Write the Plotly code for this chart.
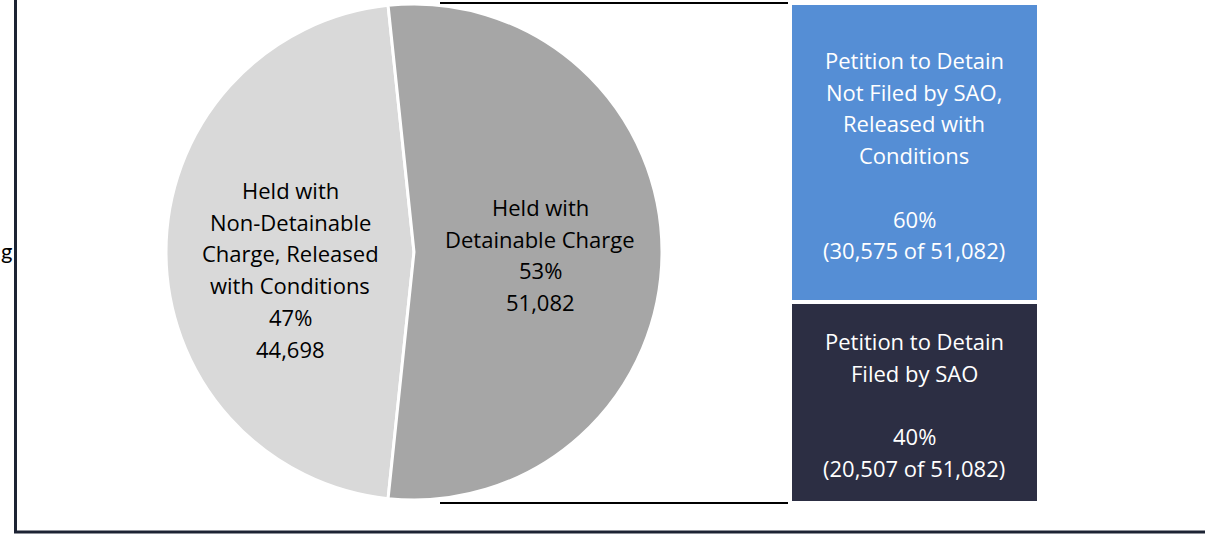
import plotly.graph_objects as go

# ---- data ----
pie_labels = ["Held with<br>Non-Detainable<br>Charge, Released<br>with Conditions",
              "Held with<br>Detainable Charge"]
pie_values = [44698, 51082]
pie_colors = ["#D9D9D9", "#A6A6A6"]

bar_labels = ["Petition to Detain<br>Filed by SAO",
              "Petition to Detain<br>Not Filed by SAO,<br>Released with<br>Conditions"]
bar_values = [20507, 30575]
bar_colors = ["#2C2E43", "#558ED5"]

W, H = 1205, 534
FONT = "Open Sans"
FS = 22
LINE = 31.7

def py(px):
    """top-pixel to paper y"""
    return 1 - px / H

fig = go.Figure()

pie_total = sum(pie_values)
fig.add_trace(go.Pie(
    labels=[l.replace("<br>", " ") for l in pie_labels],
    values=pie_values,
    sort=False,
    direction="clockwise",
    rotation=-174,
    marker=dict(colors=pie_colors, line=dict(color="white", width=3)),
    textinfo="none",
    hoverinfo="label+value+percent",
    domain=dict(x=[166 / W, 662 / W], y=[34 / H, 530 / H]),
    showlegend=False,
))

bar_total = sum(bar_values)
for lab, val, col in zip(bar_labels, bar_values, bar_colors):
    fig.add_trace(go.Bar(
        x=["Detained"], y=[val], name=lab.replace("<br>", " "),
        marker=dict(color=col, line=dict(color="white", width=4)),
        width=1, xaxis="x2", yaxis="y2", showlegend=False,
        hoverinfo="name+y",
    ))

annotations = []

def add_lines(lines, cx, top_center, color):
    for i, t in enumerate(lines):
        if t == "":
            continue
        annotations.append(dict(
            text=t, xref="paper", yref="paper", x=cx / W, y=py(top_center + i * LINE),
            xanchor="center", yanchor="middle", showarrow=False,
            font=dict(family=FONT, size=FS, color=color)))

# pie labels
pie_centers = [(290, 190), (540, 207)]
for lab, val, (cx, ty) in zip(pie_labels, pie_values, pie_centers):
    lines = lab.split("<br>") + [f"{round(100 * val / pie_total)}%", f"{val:,}"]
    add_lines(lines, cx, ty, "#000000")

# bar labels
bar_centers = [(914, 341), (914, 60)]
for lab, val, (cx, ty) in zip(bar_labels, bar_values, bar_centers):
    lines = lab.split("<br>") + ["", f"{round(100 * val / bar_total)}%",
                                 f"({val:,} of {bar_total:,})"]
    add_lines(lines, cx, ty, "#FFFFFF")

# cut-off text at far left
annotations.append(dict(text="g", xref="paper", yref="paper", x=-1 / W, y=py(250),
                        xanchor="left", yanchor="middle", showarrow=False,
                        font=dict(family="Lato", size=FS, color="#000000")))

BAR_TOP, BAR_BOT = 3, 503
shapes = [
    # connector lines from pie to the stacked bar
    dict(type="line", xref="paper", yref="paper", x0=440 / W, x1=788 / W,
         y0=py(BAR_TOP), y1=py(BAR_TOP), line=dict(color="#000000", width=2)),
    dict(type="line", xref="paper", yref="paper", x0=440 / W, x1=788 / W,
         y0=py(BAR_BOT), y1=py(BAR_BOT), line=dict(color="#000000", width=2)),
    # frame (left and bottom)
    dict(type="line", xref="paper", yref="paper", x0=15.5 / W, x1=15.5 / W,
         y0=py(533), y1=1, line=dict(color="#1C2333", width=3)),
    dict(type="line", xref="paper", yref="paper", x0=14 / W, x1=1,
         y0=py(532), y1=py(532), line=dict(color="#1C2333", width=3)),
]

fig.update_layout(
    width=W, height=H,
    margin=dict(l=0, r=0, t=0, b=0),
    paper_bgcolor="white", plot_bgcolor="rgba(0,0,0,0)",
    barmode="stack", bargap=0,
    xaxis2=dict(domain=[790 / W, 1039 / W], range=[-0.5, 0.5], visible=False,
                anchor="y2", fixedrange=True),
    yaxis2=dict(domain=[1 - BAR_BOT / H, 1 - BAR_TOP / H], range=[0, bar_total],
                visible=False, anchor="x2", fixedrange=True),
    xaxis=dict(visible=False), yaxis=dict(visible=False),
    annotations=annotations,
    shapes=shapes,
    font=dict(family=FONT),
)

fig.write_html("out.html", config={"displayModeBar": False},
               post_script="document.body.style.margin='0';document.body.style.overflow='hidden';")
